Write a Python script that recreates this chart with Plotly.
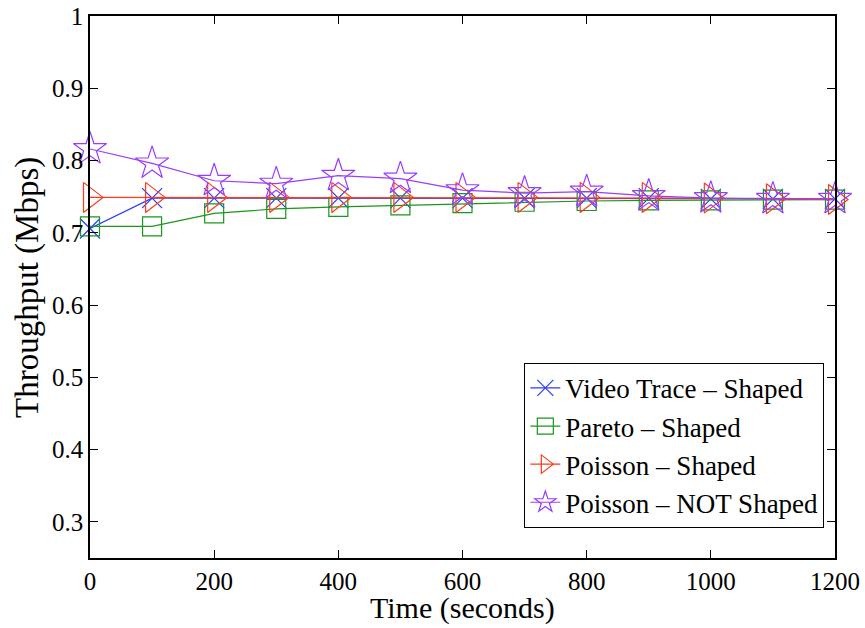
import plotly.graph_objects as go

time_s = [0, 100, 200, 300, 400, 500, 600, 700, 800, 900, 1000, 1100, 1200]
video_shaped = [0.706, 0.748, 0.748, 0.748, 0.748, 0.748, 0.748, 0.748, 0.748, 0.748, 0.747, 0.747, 0.747]
pareto_shaped = [0.709, 0.709, 0.727, 0.733, 0.736, 0.738, 0.741, 0.743, 0.744, 0.745, 0.745, 0.746, 0.746]
poisson_shaped = [0.749, 0.749, 0.749, 0.749, 0.749, 0.749, 0.749, 0.749, 0.749, 0.749, 0.748, 0.747, 0.746]
poisson_not = [0.816, 0.796, 0.772, 0.768, 0.779, 0.775, 0.759, 0.755, 0.757, 0.751, 0.748, 0.747, 0.747]

x_title = "Time (seconds)"
y_title = "Throughput (Mbps)"

series = [
    ("Video Trace \u2013 Shaped", video_shaped, "#2a3cff", "x-thin-open", 20),
    ("Pareto \u2013 Shaped", pareto_shaped, "#1a961a", "square-open", 19),
    ("Poisson \u2013 Shaped", poisson_shaped, "#ff3a1a", "triangle-right-open", 26),
    ("Poisson \u2013 NOT Shaped", poisson_not, "#9a3cff", "star-open", 25),
]

FONT = "Liberation Serif, Times New Roman, DejaVu Serif, serif"

fig = go.Figure()
for name, ys, col, sym, sz in series:
    fig.add_trace(go.Scatter(
        x=time_s, y=ys, name=name, mode="lines+markers", cliponaxis=False,
        line=dict(color=col, width=1.2),
        marker=dict(symbol=sym, size=sz, color=col, line=dict(color=col, width=1.2)),
    ))

axis_common = dict(
    showgrid=False, zeroline=False, showline=True, linecolor="black", linewidth=1.5,
    mirror="ticks", ticks="inside", ticklen=8, tickcolor="black", automargin=False,
    ticklabeloverflow="allow",
    tickfont=dict(family=FONT, size=25, color="black"),
)
fig.update_xaxes(range=[0, 1200], tickvals=[0, 200, 400, 600, 800, 1000, 1200], **axis_common)
fig.update_yaxes(range=[0.25, 1.0], tickvals=[0.3, 0.4, 0.5, 0.6, 0.7, 0.8, 0.9, 1.0],
                 ticktext=["0.3", "0.4", "0.5", "0.6", "0.7", "0.8", "0.9", "1"], **axis_common)

fig.add_annotation(text=x_title, xref="paper", yref="paper", x=0.5, y=-0.093,
                   xanchor="center", yanchor="middle", showarrow=False,
                   font=dict(family=FONT, size=30, color="black"))
fig.add_annotation(text=y_title, xref="paper", yref="paper", x=-0.0846, y=0.5,
                   xanchor="center", yanchor="middle", showarrow=False, textangle=-90,
                   font=dict(family=FONT, size=33, color="black"))

fig.update_layout(
    width=865, height=628,
    margin=dict(l=90, r=30, t=16, b=70),
    paper_bgcolor="white", plot_bgcolor="white",
    showlegend=True,
    font=dict(family=FONT, color="black"),
    legend=dict(x=0.583, y=0.36, xanchor="left", yanchor="top",
                bordercolor="black", borderwidth=1, bgcolor="white",
                font=dict(family=FONT, size=27, color="black"),
                itemwidth=30, tracegroupgap=0),
)

fig.write_html("out.html")
